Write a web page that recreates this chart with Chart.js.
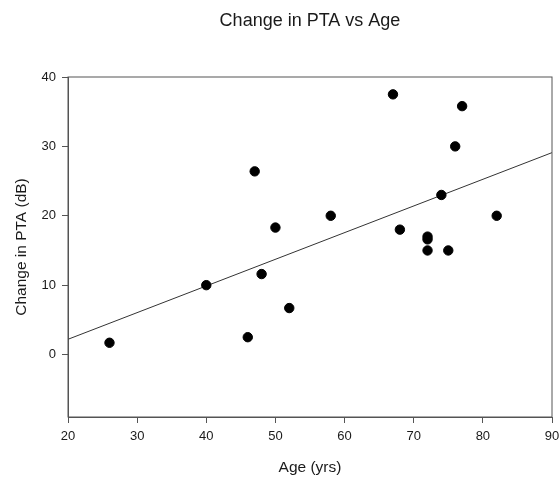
<!DOCTYPE html>
<html lang="en">
  <head>
    <meta charset="UTF-8" />
    <title>Change in PTA vs Age</title>
    <script src="https://cdn.jsdelivr.net/npm/chart.js"></script>
    <style>
      html, body { margin: 0; padding: 0; background: #fff; }
      #wrap { width: 560px; height: 477px; position: relative; }
    </style>
  </head>
  <body>
    <div id="wrap"><canvas id="ptaChart"></canvas></div>

    <script>
      // Age (yrs) and change in pure-tone average (dB) for each subject
      const ages = [26, 40, 46, 47, 48, 50, 52, 58, 67, 68, 72, 72, 72, 74, 75, 76, 77, 82];
      const ptaChange = [1.7, 10, 2.5, 26.4, 11.6, 18.3, 6.7, 20, 37.5, 18, 17, 16.6, 15, 23, 15, 30, 35.8, 20];

      // fitted regression line, end points at the axis limits
      const fitAges = [20, 90];
      const fitValues = [2.2, 29.1];

      const xTicks = [20, 30, 40, 50, 60, 70, 80, 90];
      const yTicks = [0, 10, 20, 30, 40];

      const points = ages.map((a, i) => ({ x: a, y: ptaChange[i] }));
      const fitLine = fitAges.map((a, i) => ({ x: a, y: fitValues[i] }));

      const textColor = "#1a1a1a";
      const axisColor = "#555";
      const fontFamily = "'Liberation Sans', Arial, sans-serif";

      // box around the plot plus the title above it
      const frameAndTitle = {
        id: "frameAndTitle",
        afterDraw(chart) {
          const { ctx, chartArea: a } = chart;
          ctx.save();
          ctx.strokeStyle = axisColor;
          ctx.lineWidth = 1;
          ctx.strokeRect(a.left, a.top, a.right - a.left, a.bottom - a.top);
          ctx.fillStyle = textColor;
          ctx.font = "18px " + fontFamily;
          ctx.textAlign = "center";
          ctx.textBaseline = "middle";
          ctx.fillText("Change in PTA vs Age", (a.left + a.right) / 2, 21);
          ctx.restore();
        },
      };

      new Chart(document.getElementById("ptaChart"), {
        type: "scatter",
        data: {
          datasets: [
            {
              label: "Change in PTA",
              data: points,
              backgroundColor: "#000",
              borderColor: "#000",
              pointRadius: 4.7,
              pointHoverRadius: 4.7,
            },
            {
              type: "line",
              label: "Fit",
              data: fitLine,
              borderColor: "#333",
              borderWidth: 1,
              pointRadius: 0,
              fill: false,
            },
          ],
        },
        options: {
          responsive: true,
          maintainAspectRatio: false,
          animation: false,
          layout: { padding: { top: 77, right: 8, left: 0, bottom: 0 } },
          plugins: {
            legend: { display: false },
            tooltip: { enabled: false },
          },
          scales: {
            x: {
              type: "linear",
              min: 20,
              max: 90,
              afterBuildTicks: (s) => { s.ticks = xTicks.map((v) => ({ value: v })); },
              afterFit: (s) => {
                s.height = 60;
                s.paddingLeft = 0;
                s.paddingRight = 0;
              },
              grid: { drawOnChartArea: false, tickLength: 6, color: axisColor },
              border: { color: axisColor },
              ticks: {
                color: textColor,
                padding: 6,
                maxRotation: 0,
                font: { family: fontFamily, size: 13 },
              },
              title: {
                display: true,
                text: "Age (yrs)",
                color: textColor,
                padding: { top: 0, bottom: 0 },
                font: { family: fontFamily, size: 15.5, lineHeight: 1.2 },
              },
            },
            y: {
              min: -9,
              max: 40,
              afterBuildTicks: (s) => { s.ticks = yTicks.map((v) => ({ value: v })); },
              afterFit: (s) => {
                s.width = 68;
                s.paddingTop = 0;
                s.paddingBottom = 0;
              },
              grid: { drawOnChartArea: false, tickLength: 6, color: axisColor },
              border: { color: axisColor },
              ticks: {
                color: textColor,
                padding: 6,
                font: { family: fontFamily, size: 13 },
              },
              title: {
                display: true,
                text: "Change in PTA (dB)",
                color: textColor,
                padding: { top: 12, bottom: 0 },
                font: { family: fontFamily, size: 15.5, lineHeight: 1.2 },
              },
            },
          },
        },
        plugins: [frameAndTitle],
      });
    </script>
  </body>
</html>
